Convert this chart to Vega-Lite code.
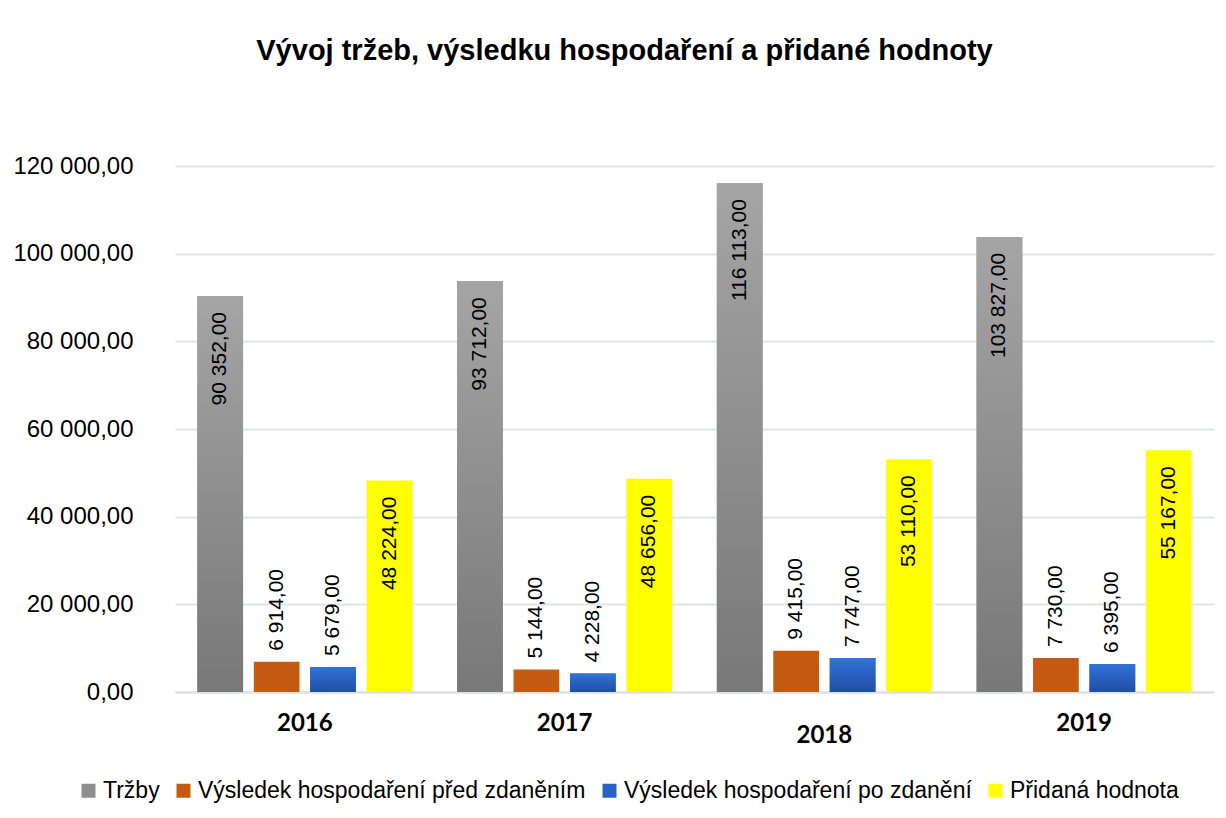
{
  "$schema": "https://vega.github.io/schema/vega-lite/v6.json",
  "width": 1039,
  "height": 526,
  "autosize": {"type": "none"},
  "padding": {"left": 175, "top": 166, "right": 12, "bottom": 126},
  "background": "white",
  "config": {
    "locale": {"number": {"decimal": ",", "thousands": " ", "grouping": [3], "currency": ["", " Kč"]}},
    "view": {"stroke": null},
    "font": "Liberation Sans"
  },
  "title": {
    "text": "Vývoj tržeb, výsledku hospodaření a přidané hodnoty",
    "font": "Liberation Sans",
    "fontSize": 29,
    "fontWeight": "bold",
    "color": "#000000",
    "anchor": "middle",
    "frame": "group",
    "baseline": "alphabetic",
    "dx": -70,
    "offset": 65
  },
  "data": {
    "values": [
      {"rok": "2016", "s": "Tržby", "v": 90352},
      {"rok": "2016", "s": "Výsledek hospodaření před zdaněním", "v": 6914},
      {"rok": "2016", "s": "Výsledek hospodaření po zdanění", "v": 5679},
      {"rok": "2016", "s": "Přidaná hodnota", "v": 48224},
      {"rok": "2017", "s": "Tržby", "v": 93712},
      {"rok": "2017", "s": "Výsledek hospodaření před zdaněním", "v": 5144},
      {"rok": "2017", "s": "Výsledek hospodaření po zdanění", "v": 4228},
      {"rok": "2017", "s": "Přidaná hodnota", "v": 48656},
      {"rok": "2018", "s": "Tržby", "v": 116113},
      {"rok": "2018", "s": "Výsledek hospodaření před zdaněním", "v": 9415},
      {"rok": "2018", "s": "Výsledek hospodaření po zdanění", "v": 7747},
      {"rok": "2018", "s": "Přidaná hodnota", "v": 53110},
      {"rok": "2019", "s": "Tržby", "v": 103827},
      {"rok": "2019", "s": "Výsledek hospodaření před zdaněním", "v": 7730},
      {"rok": "2019", "s": "Výsledek hospodaření po zdanění", "v": 6395},
      {"rok": "2019", "s": "Přidaná hodnota", "v": 55167}
    ]
  },
  "encoding": {
    "x": {
      "field": "rok",
      "type": "nominal",
      "scale": {"paddingInner": 0.172, "paddingOuter": 0.086},
      "axis": {
        "title": null,
        "labelAngle": 0,
        "labelFont": "Lato",
        "labelFontSize": 24,
        "labelFontWeight": "bold",
        "labelColor": "#000000",
        "labelPadding": 31,
        "labelBaseline": {"condition": {"test": "datum.value === '2018'", "value": "top"}, "value": "middle"},
        "ticks": false,
        "domain": true,
        "domainColor": "#dcdfe4",
        "domainWidth": 2,
        "grid": false
      }
    },
    "xOffset": {
      "field": "s",
      "type": "nominal",
      "scale": {
        "domain": ["Tržby", "Výsledek hospodaření před zdaněním", "Výsledek hospodaření po zdanění", "Přidaná hodnota"],
        "paddingInner": 0.19,
        "paddingOuter": 0
      }
    },
    "y": {
      "field": "v",
      "type": "quantitative",
      "scale": {"domain": [0, 120000]},
      "axis": {
        "title": null,
        "values": [0, 20000, 40000, 60000, 80000, 100000, 120000],
        "format": ",.2f",
        "labelFont": "Liberation Sans",
        "labelFontSize": 24,
        "labelColor": "#000000",
        "labelPadding": 42,
        "ticks": false,
        "domain": false,
        "grid": true,
        "gridColor": "#e0e3e8",
        "gridWidth": 2
      }
    }
  },
  "layer": [
    {
      "mark": {"type": "bar"},
      "encoding": {
        "color": {
          "field": "s",
          "type": "nominal",
          "scale": {
            "domain": ["Tržby", "Výsledek hospodaření před zdaněním", "Výsledek hospodaření po zdanění", "Přidaná hodnota"],
            "range": ["#8e8e8e", "#c55a11", "#2a62c4", "#ffff00"]
          },
          "legend": {
            "title": null,
            "orient": "none",
            "legendX": -98,
            "legendY": 613,
            "direction": "horizontal",
            "symbolType": "square",
            "symbolSize": 196,
            "symbolStrokeWidth": 0,
            "labelFont": "Liberation Sans",
            "labelFontSize": 23,
            "labelColor": "#000000",
            "labelOffset": 3,
            "columnPadding": 12,
            "labelLimit": 0
          }
        }
      }
    },
    {
      "transform": [{"filter": "datum.s === 'Tržby'"}],
      "mark": {
        "type": "bar",
        "color": {
          "gradient": "linear", "x1": 0, "y1": 0, "x2": 0, "y2": 1,
          "stops": [{"offset": 0, "color": "#a5a5a5"}, {"offset": 1, "color": "#787878"}]
        }
      }
    },
    {
      "transform": [{"filter": "datum.s === 'Výsledek hospodaření po zdanění'"}],
      "mark": {
        "type": "bar",
        "color": {
          "gradient": "linear", "x1": 0, "y1": 0, "x2": 0, "y2": 1,
          "stops": [{"offset": 0, "color": "#3172da"}, {"offset": 1, "color": "#1f4ea3"}]
        }
      }
    },
    {
      "transform": [{"filter": "datum.s === 'Tržby' || datum.s === 'Přidaná hodnota'"}],
      "mark": {"type": "text", "angle": 270, "align": "right", "baseline": "middle", "dx": -16, "fontSize": 21, "font": "Liberation Sans", "color": "#000000"},
      "encoding": {"text": {"field": "v", "type": "quantitative", "format": ",.2f"}}
    },
    {
      "transform": [{"filter": "datum.s !== 'Tržby' && datum.s !== 'Přidaná hodnota'"}],
      "mark": {"type": "text", "angle": 270, "align": "left", "baseline": "middle", "dx": 11, "fontSize": 21, "font": "Liberation Sans", "color": "#000000"},
      "encoding": {"text": {"field": "v", "type": "quantitative", "format": ",.2f"}}
    }
  ]
}
